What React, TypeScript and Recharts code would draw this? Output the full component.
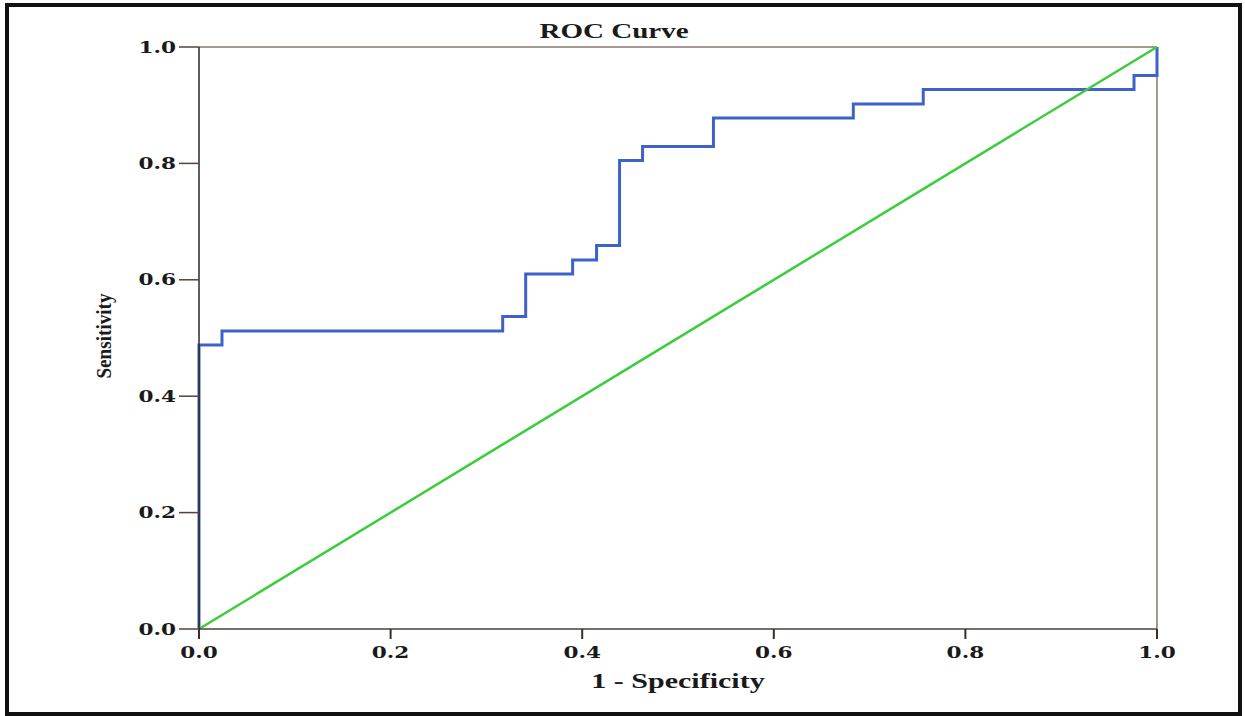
import { LineChart, Line, XAxis, YAxis, ReferenceLine } from 'recharts'

// ROC curve points (1 - specificity, sensitivity)
const fpr = [0, 0, 0.024, 0.317, 0.341, 0.39, 0.415, 0.439, 0.463, 0.537, 0.683, 0.756, 0.976, 1.0]
const tpr = [0, 0.488, 0.512, 0.537, 0.61, 0.634, 0.659, 0.805, 0.829, 0.878, 0.902, 0.927, 0.951, 1.0]

// reference (chance) line
const refFpr = [0, 1]
const refTpr = [0, 1]

const axisTicks = [0, 0.2, 0.4, 0.6, 0.8, 1.0]

const rocData = fpr.map((x, i) => ({ fpr: x, tpr: tpr[i] }))
const diagData = refFpr.map((x, i) => ({ fpr: x, tpr: refTpr[i] }))

const tickFont = '"DejaVu Serif", serif'
const labelFont = '"Liberation Serif", "Times New Roman", serif'

const WideTick = (props: any) => {
    const { x, y, payload, textAnchor, orientation } = props
    return (
        <g transform={`translate(${x},${y}) scale(1.35,1)`}>
            <text
                x={0}
                y={0}
                dy={orientation === 'bottom' ? '0.71em' : '0.355em'}
                textAnchor={textAnchor}
                fontFamily={tickFont}
                fontWeight="bold"
                fontSize={16}
                fill="#1a1a1a"
            >
                {Number(payload.value).toFixed(1)}
            </text>
        </g>
    )
}

export default function App() {
    return (
        <div style={{ position: 'absolute', left: 0, top: 0, width: 1245, height: 716, background: '#fff', overflow: 'hidden' }}>
            <div
                style={{
                    position: 'absolute',
                    left: 5,
                    top: 3,
                    width: 1237,
                    height: 713,
                    boxSizing: 'border-box',
                    border: '4px solid #111',
                }}
            />
            <LineChart width={1245} height={716} data={rocData} margin={{ top: 47, right: 88, bottom: 0, left: 0 }}>
                <XAxis
                    dataKey="fpr"
                    type="number"
                    domain={[0, 1]}
                    ticks={axisTicks}
                    height={87}
                    tickSize={10}
                    tickMargin={8}
                    axisLine={{ stroke: '#4a403b', strokeWidth: 1.5 }}
                    tickLine={{ stroke: '#3a2e2a', strokeWidth: 2 }}
                    tick={<WideTick orientation="bottom" />}
                    interval={0}
                />
                <YAxis
                    type="number"
                    domain={[0, 1]}
                    ticks={axisTicks}
                    width={199}
                    tickSize={20}
                    tickMargin={3}
                    axisLine={{ stroke: '#2a2a2a', strokeWidth: 1.5 }}
                    tickLine={{ stroke: '#5a4035', strokeWidth: 1.5 }}
                    tick={<WideTick orientation="left" />}
                    interval={0}
                />
                <ReferenceLine y={1} stroke="#86766c" strokeWidth={1.5} />
                <ReferenceLine x={1} stroke="#86766c" strokeWidth={1.5} />
                <Line
                    data={rocData}
                    dataKey="tpr"
                    type="stepAfter"
                    stroke="#3f62c8"
                    strokeWidth={3}
                    dot={false}
                    isAnimationActive={false}
                />
                <Line
                    data={diagData}
                    dataKey="tpr"
                    type="linear"
                    stroke="#3ccc3c"
                    strokeWidth={2.5}
                    dot={false}
                    isAnimationActive={false}
                />
            </LineChart>
            <div
                style={{
                    position: 'absolute',
                    left: 614,
                    top: 21,
                    transform: 'translateX(-50%) scaleX(1.45)',
                    fontFamily: labelFont,
                    fontWeight: 'bold',
                    fontSize: 20,
                    lineHeight: '20px',
                    whiteSpace: 'nowrap',
                    color: '#1a1a1a',
                }}
            >
                ROC Curve
            </div>
            <div
                style={{
                    position: 'absolute',
                    left: 678,
                    top: 671,
                    transform: 'translateX(-50%) scaleX(1.5)',
                    fontFamily: labelFont,
                    fontWeight: 'bold',
                    fontSize: 20,
                    lineHeight: '20px',
                    whiteSpace: 'nowrap',
                    color: '#1a1a1a',
                }}
            >
                1 - Specificity
            </div>
            <div
                style={{
                    position: 'absolute',
                    left: 104,
                    top: 336,
                    transform: 'translate(-50%, -50%) rotate(-90deg) scaleX(0.87)',
                    fontFamily: labelFont,
                    fontWeight: 'bold',
                    fontSize: 22,
                    lineHeight: '22px',
                    whiteSpace: 'nowrap',
                    color: '#1a1a1a',
                }}
            >
                Sensitivity
            </div>
        </div>
    )
}
